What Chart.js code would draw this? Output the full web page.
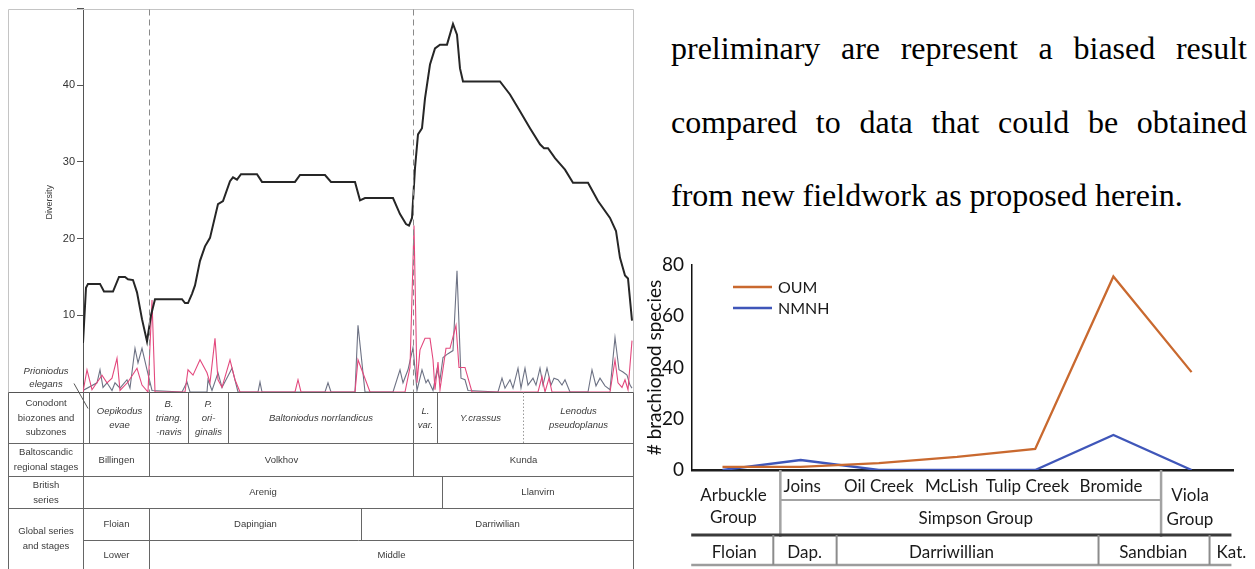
<!DOCTYPE html>
<html lang="en">
<head>
<meta charset="UTF-8">
<title>Ordovician diversity and brachiopod species</title>
<script src="https://cdn.jsdelivr.net/npm/chart.js"></script>
<style>
    html, body { margin: 0; padding: 0; background: #fff; }
    body { width: 1255px; height: 569px; position: relative; overflow: hidden; }
    #diversity { position: absolute; left: 0; top: 0; }
    #brachiopods { position: absolute; left: 640px; top: 240px; }
    .para { position: absolute; left: 671px; top: 12px; width: 576px;
            font-family: 'Liberation Serif', 'Times New Roman', serif;
            font-size: 32px; line-height: 73.5px; color: #000; }
    .para .j { text-align: justify; text-align-last: justify; }
</style>
</head>
<body>
<canvas id="diversity" width="640" height="569"></canvas>
<div class="para">
    <div class="j">preliminary are represent a biased result</div>
    <div class="j">compared to data that could be obtained</div>
    <div>from new fieldwork as proposed herein.</div>
</div>
<canvas id="brachiopods" width="615" height="329"></canvas>

<script>
// ---- left figure: diversity through the Lower-Middle Ordovician (relative level 0..550)
const totalLevel = [0,3,5,17,21,30,36,42,45,50,54,59,64,68,72,99,102,105,109,112,117,122,127,135,140,147,150,154,158,174,179,212,217,242,248,272,277,282,310,317,323,326,329,332,335,339,342,347,352,357,364,370,374,377,380,417,427,437,447,457,461,465,472,482,490,505,515,527,533,537,542,545,549];
const totalDiversity = [6.4,13.6,14.1,14.1,13.1,13.1,15,15,14.7,14.6,13,9.5,6.6,10,12.1,12.1,11.6,11.6,12.8,13.9,17.1,19,20.1,24.5,24.9,27.5,28,27.7,28.4,28.4,27.4,27.4,28.3,28.3,27.4,27.4,25,25.3,25.3,23.2,21.9,21.7,22.7,29.2,33.6,34.4,38.3,42.7,44.8,45.3,45.3,48,46.6,42.2,40.5,40.5,38.8,36.6,34.4,32.3,31.8,31.8,30.5,29,27.3,27.3,24.9,22.7,21,17.5,15.2,14.8,9.3];

const origLevel = [0,4,9,19,24,29,34,37,45,54,59,65,69,72, 102,105,110,117,124,127,132,135,139,147,152,157, 212,215,218, 272,275,287, 322,327,331,334,337,342,347,350,352,355,357,363,367,373,376,382,389, 455,459,462,466,469, 527,532,535,539,542,545,549];
const origCount = [0,2.9,0.3,2.2,1.2,1.8,4.4,0.2,1.3,3.1,0.9,0,12,0, 0,2.9,2.2,4.2,2.5,1.2,7,1.6,0.6,4.2,1.6,0, 0,1.6,0, 0,4.2,0, 0,3.2,21.7,1.2,5.5,7,7,4.2,0.3,3.9,0.3,5.7,5.7,8.7,3.2,3.2,0, 0,2,0,1.8,0, 0,4.2,1.2,0.6,1.6,0.3,6.7];

const extLevel = [0,14,17,20,24,29,32,37,44,47,52,55,59,64,69, 99,104,107, 124,125,129,135,139,149,155, 175,177,179, 242,245,248, 272,275,282, 310,317,320,325,330,334,339,343,345,350,354,357,360,365,370,374,378,382,385, 415,419,422,427,430,435,438,442,445,450,453,457,460,464,468,471,475,479,482,487, 505,509,513,517,522,527,532,536,540,544,547,549];
const extCount = [0.2,1.2,2.9,0.6,1.2,0.2,1.2,0.5,1.6,0.5,5.7,3.8,5.7,2.9,0.2, 0,1.3,0, 0,1.6,0.2,2.5,0.6,3.1,0, 0,1.3,0, 0,1.2,0, 0,8.7,0, 0,2.9,1.2,2.9,5.8,0.2,2.9,1.2,1.6,0.2,2.9,1.6,4.5,5,5.4,15.8,1.8,1.6,0.2, 0,1.8,0.5,1.6,0.5,3.1,0.5,3.1,0.9,1.8,0.9,3.1,0.9,3.1,0.9,1.8,1.6,0.9,1.6,0, 0,2.9,0.8,1.8,0.8,0.3,7.1,2.9,2.6,2.2,0.9,0.5];

const dashedLevels = [66, 330];

const biozoneNames = ['Oepikodus\nevae', 'B.\ntriang.\n-navis', 'P.\nori-\nginalis', 'Baltoniodus norrlandicus', 'L.\nvar.', 'Y.crassus', 'Lenodus\npseudoplanus'];
const biozoneBounds = [6, 66, 105, 145, 330, 354, 440, 550];
const balticStages = ['Billingen', 'Volkhov', 'Kunda'];
const balticBounds = [0, 66, 330, 550];
const britishSeries = ['Arenig', 'Llanvirn'];
const britishBounds = [0, 359, 550];
const globalStages = ['Floian', 'Dapingian', 'Darriwilian'];
const globalStageBounds = [0, 66, 278, 550];
const globalSeries = ['Lower', 'Middle'];
const globalSeriesBounds = [0, 66, 550];
const rowHeaders = ['Conodont\nbiozones and\nsubzones', 'Baltoscandic\nregional stages', 'British\nseries', 'Global series\nand stages'];

// ---- right figure: brachiopod species per formation
const formations = ['Arbuckle', 'Joins', 'Oil Creek', 'McLish', 'Tulip Creek', 'Bromide', 'Viola'];
const oumSpecies = [1.2, 1.2, 2.7, 5.1, 8.2, 75.5, 38.2];
const nmnhSpecies = [0, 3.9, 0, 0, 0, 13.7, 0];
const formationLabelAt = [1.02, 2, 2.93, 3.9, 4.97];
const groupNames = ['Arbuckle\nGroup', 'Simpson Group', 'Viola\nGroup'];
const groupLabelAt = [0.14, 3.24, 5.98];
const simpsonBounds = [0.74, 5.61];
const stageNames = ['Floian', 'Dap.', 'Darriwillian', 'Sandbian', 'Kat.'];
const stageLabelAt = [0.15, 1.05, 2.93, 5.51, 6.51];
const stageBounds = [0.65, 1.46, 4.81, 6.23];

const pts = (xs, ys) => xs.map((x, i) => ({ x: x, y: ys[i] }));

function line(ctx, x1, y1, x2, y2, color, width, dash) {
    ctx.beginPath();
    ctx.setLineDash(dash || []);
    ctx.strokeStyle = color;
    ctx.lineWidth = width || 1;
    ctx.moveTo(x1, y1);
    ctx.lineTo(x2, y2);
    ctx.stroke();
    ctx.setLineDash([]);
}

function multiline(ctx, text, cx, cy, lh) {
    const parts = text.split('\n');
    const start = cy - (parts.length - 1) * lh / 2;
    parts.forEach((p, i) => ctx.fillText(p, cx, start + i * lh));
}

const smallFont = "9.5px 'Liberation Sans Narrow', 'Liberation Sans', Arial, sans-serif";
const smallItalic = "italic 9.5px 'Liberation Sans Narrow', 'Liberation Sans', Arial, sans-serif";

const stratTable = {
    id: 'stratTable',
    afterDraw(chart) {
        const { ctx, chartArea: a } = chart;
        const px = v => Math.round(chart.scales.x.getPixelForValue(v)) + 0.5;
        const boxL = 8.5, boxR = Math.round(a.right) + 0.5, top = Math.round(a.top) + 0.5;
        const base = Math.round(a.bottom) + 0.5;
        const rows = [base, base + 51, base + 84, base + 116, base + 148, base + 177];
        const grid = '#666';
        ctx.save();

        // frame of the plot panel
        line(ctx, boxL, top, boxR, top, '#c4c4c4');
        line(ctx, boxL, top, boxL, base, '#c4c4c4');
        line(ctx, boxR, top, boxR, base, '#c4c4c4');

        // dashed boundaries
        dashedLevels.forEach(v => line(ctx, px(v), top, px(v), base, '#8a8a8a', 1, [6, 4]));

        // table grid
        line(ctx, boxL, rows[0], boxR, rows[0], '#555');
        for (let r = 1; r < 4; r++) line(ctx, boxL, rows[r], boxR, rows[r], grid);
        line(ctx, px(0), rows[4], boxR, rows[4], grid);
        line(ctx, boxL, rows[0], boxL, rows[5], grid);
        line(ctx, boxR, rows[0], boxR, rows[5], grid);
        line(ctx, px(0), rows[0], px(0), rows[5], grid);

        const cellRow = (bounds, r0, r1, skipDotted) => {
            bounds.slice(0, -1).forEach((b, i) => {
                if (b === 0) return;
                const dotted = skipDotted && i === bounds.length - 2;
                line(ctx, px(b), rows[r0], px(b), rows[r1], dotted ? '#999' : grid, 1, dotted ? [1.5, 2] : []);
            });
        };
        cellRow(biozoneBounds, 0, 1, true);
        cellRow(balticBounds, 1, 2);
        cellRow(britishBounds, 2, 3);
        cellRow(globalStageBounds, 3, 4);
        cellRow(globalSeriesBounds, 4, 5);

        ctx.fillStyle = '#3a3a3a';
        ctx.textAlign = 'center';
        ctx.textBaseline = 'middle';

        // row headers
        ctx.font = smallFont;
        const hx = (boxL + px(0)) / 2;
        multiline(ctx, rowHeaders[0], hx, (rows[0] + rows[1]) / 2, 14.5);
        multiline(ctx, rowHeaders[1], hx, (rows[1] + rows[2]) / 2, 15);
        multiline(ctx, rowHeaders[2], hx, (rows[2] + rows[3]) / 2, 15);
        multiline(ctx, rowHeaders[3], hx, (rows[3] + rows[5]) / 2, 15);

        const labelRow = (names, bounds, r, italic) => {
            ctx.font = italic ? smallItalic : smallFont;
            names.forEach((n, i) => {
                const cx = (px(bounds[i]) + px(bounds[i + 1])) / 2;
                multiline(ctx, n, cx, (rows[r] + rows[r + 1]) / 2, 14);
            });
        };
        labelRow(biozoneNames, biozoneBounds, 0, true);
        labelRow(balticStages, balticBounds, 1);
        labelRow(britishSeries, britishBounds, 2);
        labelRow(globalStages, globalStageBounds, 3);
        labelRow(globalSeries, globalSeriesBounds, 4);

        // marker taxon label with its pointer
        ctx.font = smallItalic;
        multiline(ctx, 'Prioniodus\nelegans', 46, base - 15, 13);
        line(ctx, 74, base - 9, 88, base + 16, '#555');

        // y axis title
        ctx.translate(50, (a.top + a.bottom) / 2 + 2);
        ctx.rotate(-Math.PI / 2);
        ctx.font = "9px 'Liberation Sans Narrow', 'Liberation Sans', Arial, sans-serif";
        ctx.fillText('Diversity', 0, 0);
        ctx.restore();
    }
};

new Chart(document.getElementById('diversity'), {
    type: 'line',
    data: {
        datasets: [
            { label: 'Total diversity', data: pts(totalLevel, totalDiversity), borderColor: '#262626', borderWidth: 2, pointRadius: 0, tension: 0 },
            { label: 'Originations', data: pts(origLevel, origCount), borderColor: '#e3487d', borderWidth: 1.1, pointRadius: 0, tension: 0 },
            { label: 'Extinctions', data: pts(extLevel, extCount), borderColor: '#6d7284', borderWidth: 1.1, pointRadius: 0, tension: 0 }
        ]
    },
    options: {
        responsive: false,
        animation: false,
        layout: { padding: { left: 0, top: 7, right: 7, bottom: 177 } },
        plugins: { legend: { display: false }, tooltip: { enabled: false } },
        scales: {
            x: { type: 'linear', min: 0, max: 550, display: false },
            y: {
                min: 0, max: 50,
                afterFit(scale) { scale.width = 83; },
                ticks: {
                    stepSize: 10,
                    padding: 2,
                    color: '#333',
                    font: { family: "'Liberation Sans Narrow', 'Liberation Sans', Arial, sans-serif", size: 11 },
                    callback: v => (v === 0 || v === 50) ? '' : v
                },
                grid: { drawOnChartArea: false, drawTicks: true, tickLength: 6, color: '#555' },
                border: { color: '#555' }
            }
        }
    },
    plugins: [stratTable]
});

// ---- right chart plugins
const formationTable = {
    id: 'formationTable',
    afterDraw(chart) {
        const { ctx, chartArea: a } = chart;
        const px = v => chart.scales.x.getPixelForValue(v);
        const base = a.bottom;
        ctx.save();
        const gray = '#a3a3a3';
        line(ctx, px(simpsonBounds[0]), base, px(simpsonBounds[0]), base + 67, gray, 2.5);
        line(ctx, px(simpsonBounds[1]), base, px(simpsonBounds[1]), base + 67, gray, 2.5);
        line(ctx, px(simpsonBounds[0]), base + 30, px(simpsonBounds[1]), base + 30, gray, 2);
        line(ctx, px(-0.4), base + 65, px(6.51), base + 65, '#3a3a3a', 3);
        line(ctx, px(-0.4), base + 95, px(6.51), base + 95, '#9c9c9c', 2.5);
        stageBounds.forEach(b => line(ctx, px(b), base + 65, px(b), base + 95, '#8c8c8c', 2));

        ctx.fillStyle = '#1a1a1a';
        ctx.textAlign = 'center';
        ctx.textBaseline = 'middle';
        ctx.font = "17px Lato, 'Noto Sans', sans-serif";
        formations.slice(1, 6).forEach((f, i) => ctx.fillText(f, px(formationLabelAt[i]), base + 17));
        multiline(ctx, groupNames[0], px(groupLabelAt[0]), base + 37, 22);
        ctx.fillText(groupNames[1], px(groupLabelAt[1]), base + 49);
        multiline(ctx, groupNames[2], px(groupLabelAt[2]), base + 38, 24);
        stageNames.forEach((s, i) => ctx.fillText(s, px(stageLabelAt[i]), base + 83));
        ctx.restore();
    }
};

const inlineLegend = {
    id: 'inlineLegend',
    afterDraw(chart) {
        const { ctx, chartArea: a } = chart;
        ctx.save();
        ctx.font = "16px Lato, 'Noto Sans', sans-serif";
        ctx.textBaseline = 'middle';
        chart.data.datasets.forEach((ds, i) => {
            const y = a.top + 22 + i * 21;
            line(ctx, a.left + 41, y, a.left + 80, y, ds.borderColor, 2.5);
            ctx.fillStyle = '#1a1a1a';
            ctx.fillText(ds.label, a.left + 86, y + 1);
        });
        ctx.restore();
    }
};

new Chart(document.getElementById('brachiopods'), {
    type: 'line',
    data: {
        datasets: [
            { label: 'OUM', data: oumSpecies.map((v, i) => ({ x: i, y: v })), borderColor: '#c9692f', borderWidth: 2.3, pointRadius: 0, tension: 0 },
            { label: 'NMNH', data: nmnhSpecies.map((v, i) => ({ x: i, y: v })), borderColor: '#3f56b9', borderWidth: 2.3, pointRadius: 0, tension: 0 }
        ]
    },
    options: {
        responsive: false,
        animation: false,
        layout: { padding: { left: 0, top: 25, right: 22, bottom: 99 } },
        plugins: { legend: { display: false }, tooltip: { enabled: false } },
        scales: {
            x: {
                type: 'linear', min: -0.39, max: 6.53,
                afterFit(scale) { scale.height = 0; },
                ticks: { display: false },
                grid: { drawOnChartArea: false, drawTicks: false },
                border: { color: '#1e1e1e', width: 2.5 }
            },
            y: {
                min: 0, max: 80,
                afterFit(scale) { scale.width = 52; },
                ticks: { stepSize: 20, padding: 8, color: '#111', font: { family: "Lato, 'Noto Sans', sans-serif", size: 19 } },
                grid: { drawOnChartArea: false, drawTicks: false },
                border: { color: '#111', width: 1.5 },
                title: { display: true, text: '# brachiopod species', color: '#111', padding: { top: 3, bottom: 0 }, font: { family: "Lato, 'Noto Sans', sans-serif", size: 19 } }
            }
        }
    },
    plugins: [formationTable, inlineLegend]
});
</script>
</body>
</html>
